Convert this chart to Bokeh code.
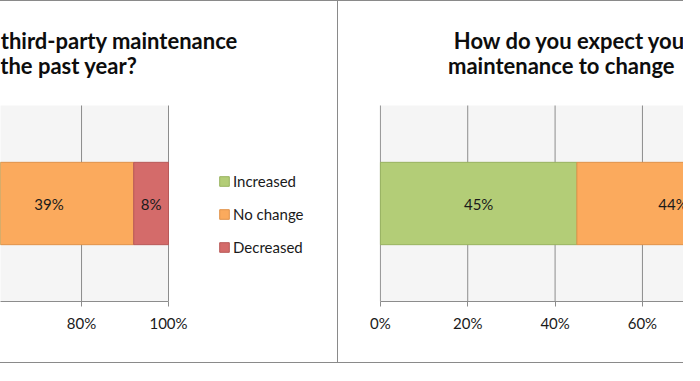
from bokeh.plotting import figure
from bokeh.models import Range1d, FixedTicker, PrintfTickFormatter, Label, ColumnDataSource
from bokeh.layouts import row
from bokeh.core.properties import value
from bokeh.embed import file_html
from bokeh.resources import INLINE

# ---- data ----
categories = ["Increased", "No change", "Decreased"]
left_values = [53, 39, 8]
right_values = [45, 44, 11]
tick_values = [0, 20, 40, 60, 80, 100]
left_title_lines = ["third-party maintenance", "the past year?"]
right_title_lines = ["How do you expect you", "maintenance to change"]

colors = ["#b3cd77", "#fbaa5d", "#d46b6a"]
edges = ["#98b35f", "#e0924a", "#b85958"]
FONT = "Lato"
GRID = "#8c8c8c"
H = 363
TOP = 104          # px above the plot area
BOTTOM = 63        # px below the plot area
PLOT_H = H - TOP - BOTTOM
Y_TOP = (H - BOTTOM) / PLOT_H   # plot area spans y 0..1, frame reaches the canvas top


def make_panel(width, vals, x_start, x_end, border_left, styles, legend):
    p = figure(width=width, height=H, output_backend="svg", toolbar_location=None,
               x_range=Range1d(x_start, x_end), y_range=Range1d(0, Y_TOP),
               y_axis_type=None, min_border_left=border_left, min_border_right=0,
               min_border_top=0, min_border_bottom=BOTTOM, styles=styles)
    p.outline_line_color = None
    p.background_fill_color = "white"
    p.border_fill_color = "white"
    p.grid.visible = False

    # plot-area background and vertical gridlines (only inside the plot area)
    p.quad(left=[tick_values[0]], right=[tick_values[-1]], bottom=[0], top=[1],
           fill_color="#f5f5f5", line_color=None)
    p.segment(x0=tick_values, x1=tick_values, y0=[0] * len(tick_values),
              y1=[1] * len(tick_values), line_color=GRID, line_width=1)

    ax = p.xaxis[0]
    ax.ticker = FixedTicker(ticks=tick_values)
    ax.formatter = PrintfTickFormatter(format="%d%%")
    ax.bounds = (0, 100)
    ax.axis_line_color = GRID
    ax.major_tick_line_color = GRID
    ax.major_tick_out = 5
    ax.major_tick_in = 0
    ax.minor_tick_line_color = None
    ax.major_label_text_font = FONT
    ax.major_label_text_font_size = "15px"
    ax.major_label_text_color = "#1a1a1a"
    ax.major_label_standoff = 7

    data = {"y": [0.5]}
    for c, v in zip(categories, vals):
        data[c] = [v]
    src = ColumnDataSource(data)
    kw = dict(legend_label=categories) if legend else {}
    p.hbar_stack(categories, y="y", height=0.42, color=colors, line_color=edges,
                 line_width=1, source=src, **kw)

    # segment labels (only those inside the visible range)
    xs, ts = [], []
    start = 0
    for v in vals:
        c = start + v / 2
        if x_start < c < x_end:
            xs.append(c)
            ts.append(f"{v}%")
        start += v
    p.text(x=xs, y=[0.5] * len(xs), text=ts, text_align="center", text_baseline="middle",
           text_font=value(FONT), text_font_size="15px", text_color="#1a1a1a")
    return p


# left panel: 100% sits 168 px from the canvas' left edge, 4.348 px per percent
left = make_panel(338, left_values, 61.36, 61.36 + 338 / 4.348, 0,
                  {"border-top": "1px solid #8a8a8a", "border-bottom": "1px solid #8a8a8a",
                   "border-right": "1px solid #8a8a8a"}, True)
right = make_panel(345, right_values, -0.2, 69.4, 41,
                   {"border-top": "1px solid #8a8a8a", "border-bottom": "1px solid #8a8a8a"}, False)

leg = left.legend[0]
leg.location = (218, 44)
leg.background_fill_alpha = 0
leg.border_line_color = None
leg.padding = 0
leg.margin = 0
leg.glyph_width = 12
leg.glyph_height = 12
leg.label_height = 20
leg.spacing = 13
leg.label_standoff = 3
leg.label_text_font = FONT
leg.label_text_font_size = "15px"
leg.label_text_color = "#1a1a1a"

# titles
for p, lines, xs, align in [(left, left_title_lines, [237.4, 136.8], "right"),
                            (right, right_title_lines, [74.3, 68.5], "left")]:
    for line, x, y in zip(lines, xs, [261, 236]):
        p.add_layout(Label(x=x, y=y, x_units="screen", y_units="screen", text=line,
                           text_align=align, text_baseline="alphabetic",
                           text_font=FONT, text_font_style="bold",
                           text_font_size="22px", text_color="#0d0d0d"))

layout = row(left, right)
open("out.html", "w").write(file_html(layout, INLINE))
